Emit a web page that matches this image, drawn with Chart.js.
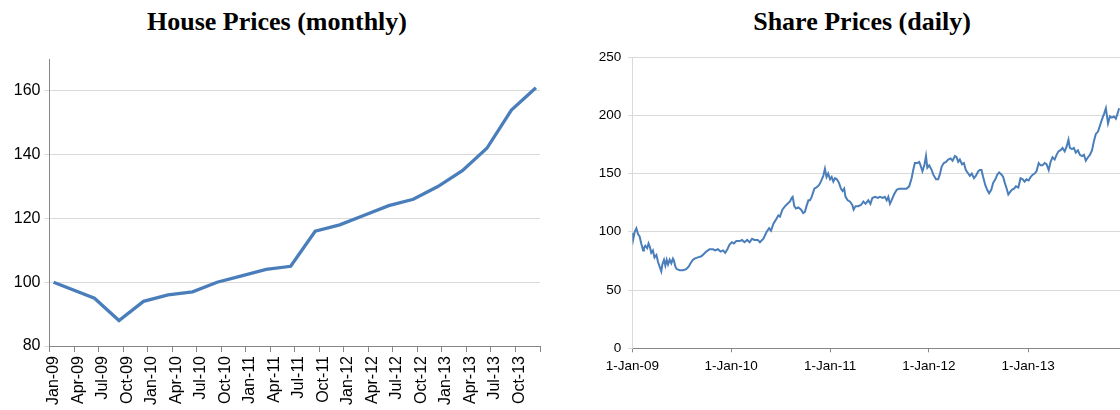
<!DOCTYPE html>
<html>
<head>
<meta charset="utf-8">
<script src="https://cdn.jsdelivr.net/npm/chart.js@4.4.0/dist/chart.umd.min.js"></script>
<style>
  html, body { margin: 0; padding: 0; background: #fff; overflow: hidden; }
  #wrap { position: relative; width: 1120px; height: 410px; overflow: hidden; }
  .title { position: absolute; top: 7px; font: bold 26px "Liberation Serif", "Times New Roman", serif; line-height: 30px; text-align: center; color: #000; }
  canvas { position: absolute; top: 0; }
</style>
</head>
<body>
<div id="wrap">
  <div class="title" style="left:0;width:554px">House Prices (monthly)</div>
  <div class="title" style="left:580px;width:564px">Share Prices (daily)</div>
  <canvas id="house" width="560" height="410" style="left:0"></canvas>
  <canvas id="share" width="580" height="410" style="left:580px"></canvas>
</div>
<script>
// house prices, one category per month; only the months where the line turns are known
const houseMonths = [
  'Jan-09','Feb-09','Mar-09','Apr-09','May-09','Jun-09','Jul-09','Aug-09','Sep-09','Oct-09','Nov-09','Dec-09',
  'Jan-10','Feb-10','Mar-10','Apr-10','May-10','Jun-10','Jul-10','Aug-10','Sep-10','Oct-10','Nov-10','Dec-10',
  'Jan-11','Feb-11','Mar-11','Apr-11','May-11','Jun-11','Jul-11','Aug-11','Sep-11','Oct-11','Nov-11','Dec-11',
  'Jan-12','Feb-12','Mar-12','Apr-12','May-12','Jun-12','Jul-12','Aug-12','Sep-12','Oct-12','Nov-12','Dec-12',
  'Jan-13','Feb-13','Mar-13','Apr-13','May-13','Jun-13','Jul-13','Aug-13','Sep-13','Oct-13','Nov-13','Dec-13'
];
const housePrices = [
  100, null, null, null, null, 95, null, null, 88, null, null, 94,
  null, null, 96, null, null, 97, null, null, 100, null, null, 102,
  null, null, 104, null, null, 105, null, null, 116, null, null, 118,
  null, null, 121, null, null, 124, null, null, 126, null, null, 130,
  null, null, 135, null, null, 142, null, null, 154, null, null, 161
];

// share prices: days since 1-Jan-09 and price
const shareDays = [
  0, 3, 9, 15, 21, 27, 33, 40, 43, 48, 55, 60, 65, 70, 76, 82, 89, 95, 101, 107,
  111, 117, 122, 127, 132, 138, 144, 150, 154, 159, 164, 175, 187, 199, 208, 215, 224, 230, 242, 255,
  264, 273, 285, 298, 306, 316, 326, 335, 343, 351, 359, 368, 375, 384, 396, 405, 414, 424, 433, 442,
  451, 463, 471, 484, 496, 505, 512, 521, 529, 539, 545, 554, 564, 573, 582, 588, 592, 598, 604, 613,
  623, 631, 637, 643, 650, 656, 662, 672, 680, 689, 696, 705, 711, 717, 723, 730, 736, 742, 748, 755,
  763, 770, 776, 782, 787, 795, 803, 812, 817, 824, 834, 844, 853, 861, 871, 879, 886, 896, 906, 914,
  924, 932, 939, 945, 951, 957, 966, 976, 985, 994, 1003, 1012, 1022, 1031, 1037, 1043, 1052, 1059, 1064, 1071,
  1078, 1084, 1089, 1096, 1105, 1111, 1121, 1129, 1135, 1142, 1150, 1158, 1166, 1175, 1182, 1191, 1197, 1203, 1209, 1217,
  1224, 1231, 1240, 1246, 1253, 1261, 1268, 1277, 1283, 1289, 1295, 1303, 1310, 1317, 1325, 1332, 1340, 1347, 1354, 1363,
  1369, 1375, 1382, 1388, 1394, 1401, 1409, 1416, 1425, 1433, 1441, 1448, 1455, 1463, 1470, 1478, 1485, 1492, 1500, 1507,
  1514, 1522, 1529, 1537, 1544, 1551, 1559, 1566, 1573, 1581, 1588, 1596, 1603, 1610, 1615, 1623, 1630, 1637, 1645, 1652,
  1660, 1667, 1674, 1682, 1689, 1697, 1704, 1711, 1719, 1726, 1733, 1741, 1748, 1756, 1763, 1770, 1778, 1785, 1792, 1797
];
const sharePrices = [
  99, 93, 100, 103, 98, 96, 90, 84, 86, 88, 86, 90, 87, 82, 84, 78, 80, 74, 70, 66,
  72, 76, 71, 76, 72, 76, 73, 77, 75, 70, 68, 67, 67, 68, 70, 73, 76, 77, 78, 79,
  81, 83, 85, 85, 84, 85, 83, 84, 82, 85, 89, 91, 90, 92, 92, 93, 91, 93, 91, 94,
  93, 93, 91, 94, 100, 103, 101, 107, 110, 114, 113, 119, 122, 124, 126, 129, 130, 122, 120, 121,
  119, 116, 117, 122, 127, 127, 130, 137, 138, 140, 143, 148, 154, 147, 150, 145, 147, 143, 146, 145,
  142, 137, 135, 137, 130, 127, 126, 123, 119, 122, 122, 123, 126, 124, 127, 124, 129, 130, 129, 130,
  129, 130, 127, 130, 124, 127, 132, 136, 137, 137, 137, 137, 139, 146, 153, 159, 159, 160, 157, 152,
  157, 165, 155, 157, 153, 149, 145, 145, 149, 156, 159, 160, 162, 163, 161, 165, 164, 160, 162, 158,
  159, 153, 150, 148, 150, 146, 148, 152, 153, 153, 147, 140, 136, 133, 136, 142, 145, 149, 151, 149,
  147, 142, 137, 132, 134, 136, 137, 139, 138, 146, 145, 143, 145, 144, 147, 149, 150, 152, 159, 157,
  157, 159, 158, 153, 160, 164, 162, 166, 169, 170, 172, 169, 173, 179, 172, 171, 172, 168, 170, 166,
  165, 166, 161, 164, 166, 170, 178, 184, 186, 191, 196, 201, 206, 193, 199, 198, 199, 197, 202, 206
];
const shareTickDays = [0, 365, 730, 1095, 1461];
const shareTickLabels = ['1-Jan-09', '1-Jan-10', '1-Jan-11', '1-Jan-12', '1-Jan-13'];

const lineBlue = '#4A7EBB';
const gridGrey = '#d9d9d9';
const axisGrey = '#868686';
const sans = '"Liberation Sans", Arial, sans-serif';

new Chart(document.getElementById('house'), {
  type: 'line',
  data: {
    labels: houseMonths,
    datasets: [{
      data: housePrices,
      borderColor: lineBlue,
      borderWidth: 3.3,
      pointRadius: 0,
      spanGaps: true,
      tension: 0
    }]
  },
  options: {
    responsive: false,
    animation: false,
    layout: { padding: { left: 0, top: 59, right: 20, bottom: 0 } },
    plugins: { legend: { display: false }, tooltip: { enabled: false } },
    scales: {
      x: {
        offset: true,
        grid: {
          offset: true,
          drawOnChartArea: false,
          tickLength: 6,
          color: (ctx) => (ctx.index === undefined || ctx.index % 3 === 0) ? axisGrey : 'rgba(0,0,0,0)'
        },
        border: { color: axisGrey },
        ticks: {
          autoSkip: false,
          minRotation: 90,
          maxRotation: 90,
          padding: 4,
          color: '#000',
          font: { family: sans, size: 16 },
          callback: function (v, i) { return i % 3 === 0 ? this.getLabelForValue(v) : ''; }
        },
        afterFit: (s) => { s.height = 64; }
      },
      y: {
        min: 80,
        max: 170,
        grid: {
          tickLength: 5,
          color: (ctx) => ctx.tick && ctx.tick.value === 170 ? 'rgba(0,0,0,0)' : gridGrey
        },
        border: { color: axisGrey },
        ticks: {
          stepSize: 20,
          padding: 4,
          color: '#000',
          font: { family: sans, size: 16 },
          callback: (v) => v === 170 ? '' : v
        },
        afterFit: (s) => { s.width = 49.5; }
      }
    }
  }
});

new Chart(document.getElementById('share'), {
  type: 'line',
  data: {
    datasets: [{
      data: shareDays.map((d, i) => ({ x: d, y: sharePrices[i] })),
      borderColor: lineBlue,
      borderWidth: 2,
      pointRadius: 0,
      tension: 0
    }]
  },
  options: {
    responsive: false,
    animation: false,
    layout: { padding: { left: 0, top: 57, right: 33, bottom: 0 } },
    plugins: { legend: { display: false }, tooltip: { enabled: false } },
    scales: {
      x: {
        type: 'linear',
        min: 0,
        max: 1826,
        afterBuildTicks: (s) => { s.ticks = shareTickDays.map((v) => ({ value: v })); },
        grid: { drawOnChartArea: false, tickLength: 4, color: axisGrey },
        border: { color: axisGrey },
        ticks: {
          autoSkip: false,
          maxRotation: 0,
          padding: 6,
          color: '#000',
          font: { family: sans, size: 13.5 },
          callback: (v) => shareTickLabels[shareTickDays.indexOf(v)]
        },
        afterFit: (s) => { s.height = 61.7; }
      },
      y: {
        min: 0,
        max: 250,
        grid: { tickLength: 4, color: gridGrey },
        border: { color: gridGrey },
        ticks: {
          stepSize: 50,
          padding: 7,
          color: '#000',
          font: { family: sans, size: 13.5 }
        },
        afterFit: (s) => { s.width = 52.3; }
      }
    }
  }
});
</script>
</body>
</html>
